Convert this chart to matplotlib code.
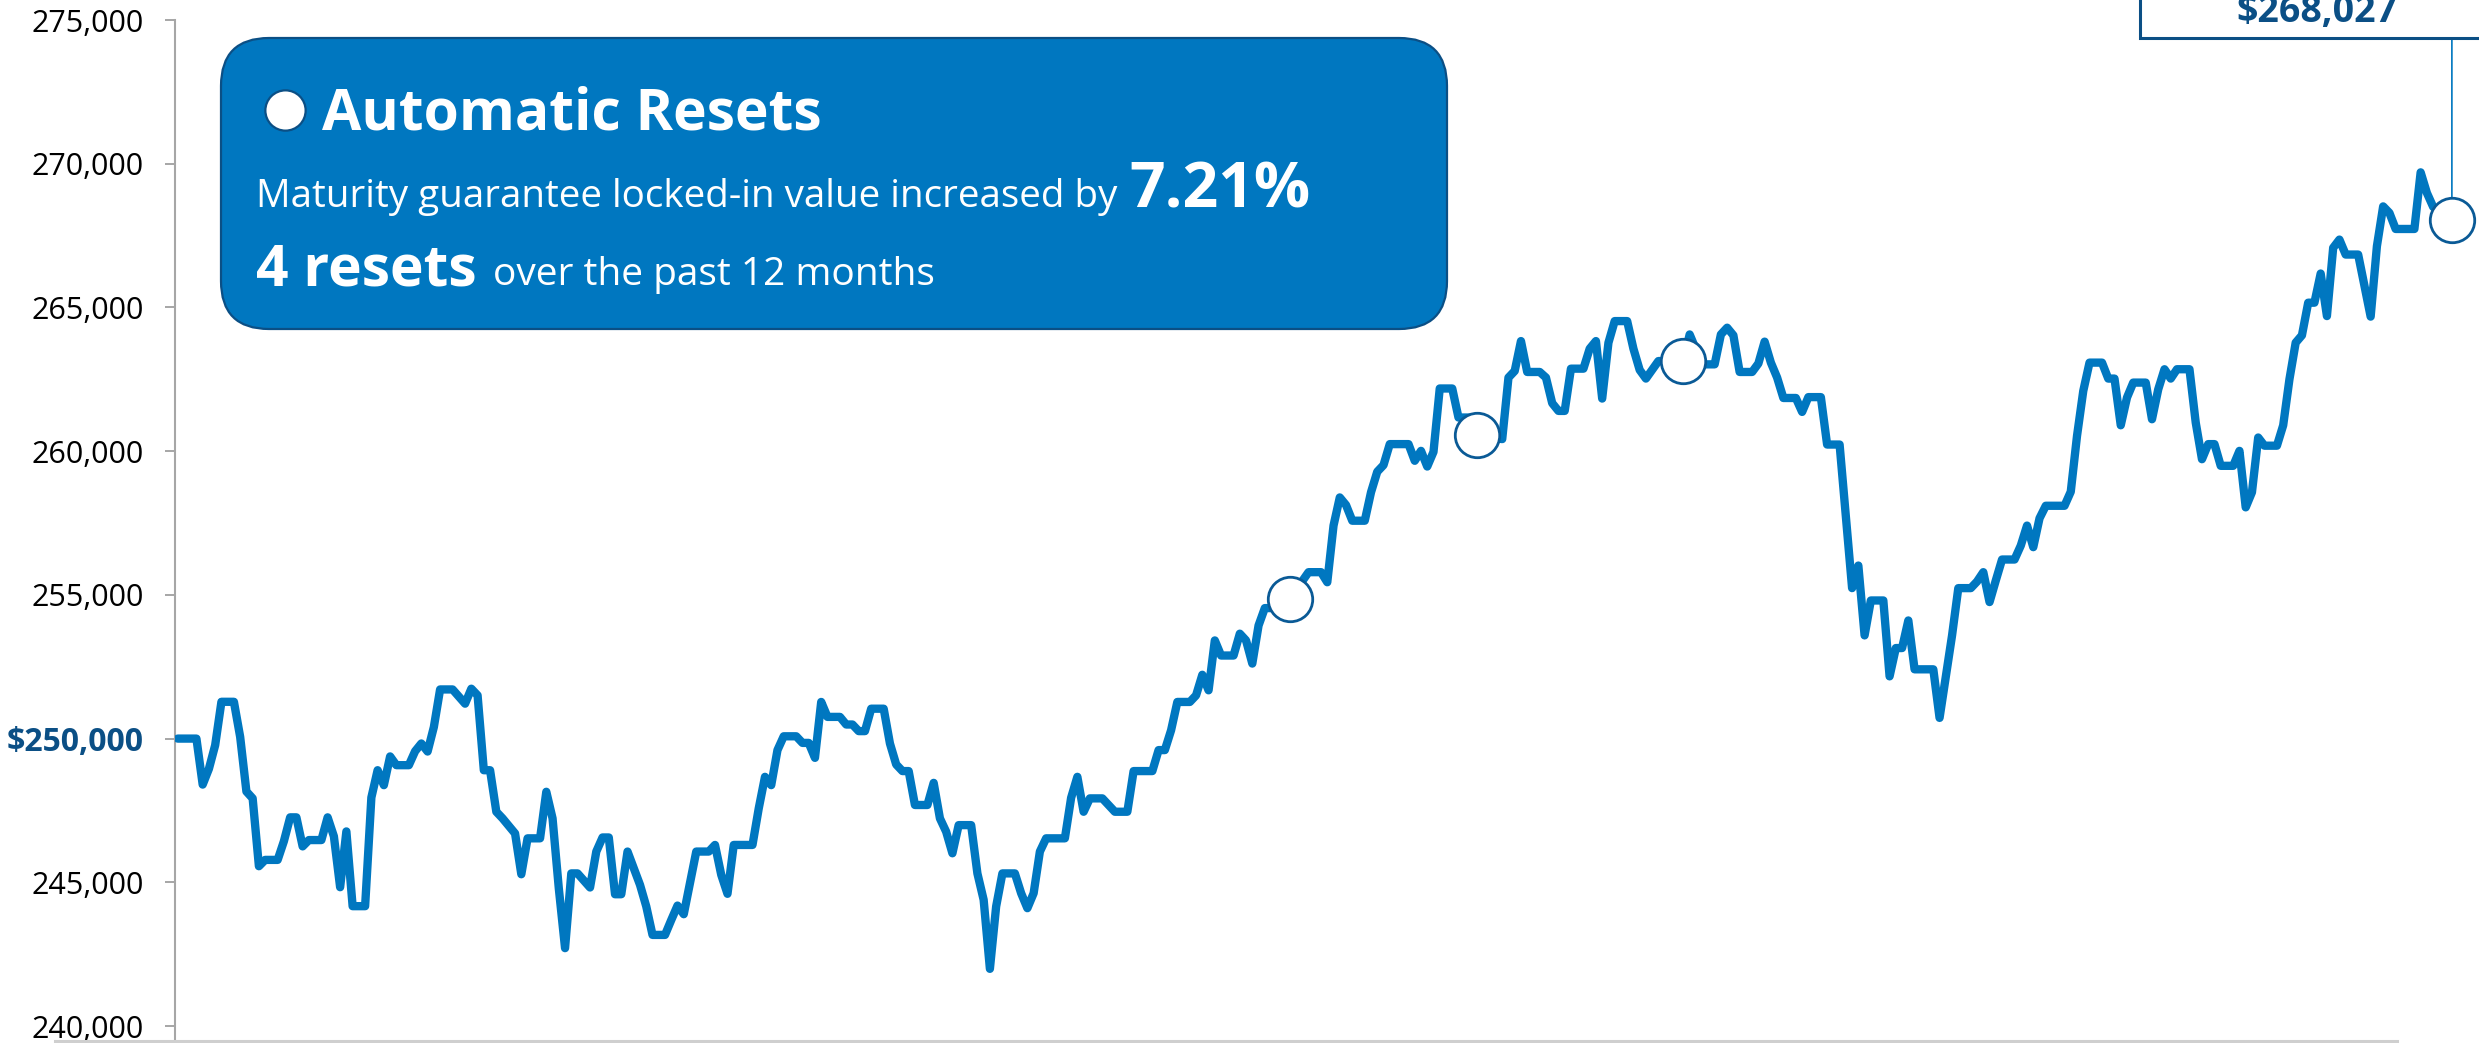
import matplotlib
matplotlib.use("Agg")
import matplotlib.pyplot as plt
from matplotlib import font_manager
from matplotlib.patches import FancyBboxPatch, Rectangle
from matplotlib.lines import Line2D
from matplotlib.transforms import IdentityTransform

# pick a humanist sans if it is there
names = {f.name for f in font_manager.fontManager.ttflist}
FONT = "Open Sans" if "Open Sans" in names else "DejaVu Sans"
plt.rcParams["font.family"] = FONT

# ---- data (day index over the past 12 months, account value) ----
days = [0, 3, 4, 5, 6, 7, 9, 10, 11, 12, 13, 14, 16, 17, 18, 19, 20, 21, 23, 24,
        25, 26, 27, 28, 30, 31, 32, 33, 34, 35, 37, 38, 39, 40, 41, 42, 44, 46, 47, 48,
        49, 50, 51, 52, 54, 55, 56, 58, 59, 60, 61, 62, 63, 64, 66, 67, 68, 69, 70, 71,
        72, 74, 75, 76, 78, 79, 80, 81, 83, 85, 86, 87, 88, 89, 92, 93, 94, 95, 96, 97,
        99, 100, 101, 102, 103, 104, 106, 107, 108, 109, 110, 111, 113, 114, 115, 116, 117, 118, 120, 121,
        122, 123, 124, 125, 127, 128, 129, 130, 131, 132, 134, 135, 136, 137, 138, 139, 142, 143, 144, 145,
        146, 148, 149, 150, 152, 153, 156, 157, 158, 159, 160, 162, 163, 164, 165, 166, 167, 169, 170, 171,
        172, 173, 174, 176, 178, 181, 183, 184, 185, 186, 187, 188, 190, 191, 192, 193, 194, 197, 198, 199,
        200, 201, 202, 204, 205, 207, 208, 212, 213, 214, 215, 216, 218, 219, 220, 221, 222, 223, 225, 226,
        227, 228, 229, 230, 232, 233, 234, 235, 237, 238, 241, 242, 244, 246, 247, 248, 249, 250, 252, 253,
        254, 255, 256, 257, 259, 260, 261, 263, 264, 266, 268, 269, 270, 271, 273, 274, 275, 276, 277, 278,
        281, 282, 284, 285, 287, 288, 289, 290, 291, 292, 294, 295, 296, 297, 298, 299, 302, 303, 304, 305,
        306, 308, 309, 310, 311, 312, 313, 315, 316, 317, 318, 319, 320, 322, 323, 324, 325, 326, 327, 329,
        330, 331, 332, 333, 334, 336, 337, 338, 339, 340, 341, 342, 343, 344, 345, 346, 347, 349, 351, 352,
        353, 354, 355, 358, 359, 360, 361, 364]
values = [250000, 250000, 248400, 248950, 249770, 251280, 251280, 250060, 248160, 247920,
          245560, 245780, 245780, 246430, 247260, 247260, 246250, 246470, 246470, 247260,
          246600, 244830, 246770, 244170, 244170, 247950, 248900, 248380, 249380, 249075,
          249075, 249560, 249830, 249550, 250400, 251710, 251710, 251215, 251735, 251505,
          248900, 248900, 247455, 247225, 246700, 245280, 246530, 246530, 248150, 247225,
          244790, 242710, 245310, 245310, 244820, 246070, 246560, 246560, 244585, 244585,
          246070, 244910, 244160, 243170, 243170, 243690, 244190, 243890, 246070, 246070,
          246300, 245260, 244600, 246300, 246300, 247570, 248670, 248380, 249600, 250080,
          250080, 249850, 249850, 249330, 251275, 250755, 250755, 250490, 250490, 250260,
          250260, 251040, 251040, 249830, 249100, 248870, 248870, 247690, 247690, 248460,
          247225, 246760, 246010, 246990, 246990, 245310, 244390, 241990, 244160, 245310,
          245310, 244620, 244100, 244620, 246070, 246530, 246530, 247940, 248670, 247455,
          247920, 247920, 247690, 247455, 247455, 248870, 248870, 249600, 249600, 250290,
          251275, 251275, 251505, 252220, 251680, 253415, 252890, 252890, 253650, 253415,
          252610, 253935, 254540, 254540, 254860, 255790, 255790, 255440, 257410, 258390,
          258125, 257580, 257580, 258570, 259285, 259515, 260245, 260245, 259665, 260010,
          259465, 259975, 262180, 262180, 261170, 261170, 260555, 260420, 262560, 262790,
          263830, 262755, 262755, 262560, 261670, 261400, 261400, 262870, 262870, 263565,
          263830, 261830, 263770, 264525, 264525, 263565, 262825, 262525, 263135, 263135,
          263135, 264060, 263020, 263020, 264060, 264295, 264030, 262755, 262755, 263050,
          263810, 263080, 262560, 261850, 261850, 261365, 261880, 261880, 260230, 260230,
          255235, 256020, 253590, 254805, 254805, 252165, 253150, 253150, 254110, 252410,
          252410, 250720, 253590, 255235, 255235, 255465, 255790, 254750, 255500, 256230,
          256230, 256715, 257410, 256660, 257665, 258100, 258100, 258590, 260530, 262095,
          263080, 263080, 262525, 262525, 260900, 261865, 262385, 262385, 261110, 262150,
          262850, 262525, 262850, 262850, 260995, 259720, 260245, 260245, 259490, 259490,
          260010, 258045, 258570, 260475, 260190, 260190, 260900, 262500, 263775, 264030,
          265165, 265165, 266180, 264700, 267075, 267360, 266840, 266840, 264680, 267130,
          268515, 268290, 267730, 267730, 269700, 268985, 268500, 268027]

reset_days = [178, 208, 241]
final_day = 364
final_label = "$268,027"
start_value = 250000
yticks = [240000, 245000, 250000, 255000, 260000, 265000, 270000, 275000]

title = "Automatic Resets"
line2_text = "Maturity guarantee locked-in value increased by"
line2_value = "7.21%"
line3_value = "4 resets"
line3_text = "over the past 12 months"

BLUE = "#0077c0"
DARK = "#0b4f85"
AXIS_GREY = "#a6a6a6"

W, H = 2479, 1043
fig = plt.figure(figsize=(W / 100, H / 100), dpi=100)
PX = IdentityTransform()  # figure pixels, origin bottom-left

# plot area: y axis at x=175, 275k at y=20, 240k at y=1026 (top-down pixels)
ax = fig.add_axes([175 / W, 3 / H, (2470 - 175) / W, 1020 / H])
ax.set_ylim(239514, 275000)
ax.set_xlim(-0.43, 366.9)

ax.plot(days, values, color=BLUE, lw=6.0, solid_joinstyle="round",
        solid_capstyle="round", zorder=3)

# reset markers + final value marker
lookup = dict(zip(days, values))
mark_days = reset_days + [final_day]
ax.plot(mark_days, [lookup[d] for d in mark_days], "o", ms=32, mfc="white",
        mec="#0a5a96", mew=2.0, zorder=4, clip_on=False)

# axes styling
for s in ["top", "right", "bottom"]:
    ax.spines[s].set_visible(False)
ax.spines["left"].set_color(AXIS_GREY)
ax.spines["left"].set_linewidth(1.5)
ax.set_xticks([])
ax.set_yticks(yticks)
labels = []
for v in yticks:
    labels.append(f"${v:,.0f}" if v == start_value else f"{v:,.0f}")
ax.set_yticklabels(labels)
ax.tick_params(axis="y", length=7.5, width=1.4, color=AXIS_GREY, pad=15,
               labelsize=22, labelcolor="black")
for lab, v in zip(ax.get_yticklabels(), yticks):
    if v == start_value:
        lab.set_color(DARK)
        lab.set_fontweight("bold")
        lab.set_fontsize(23)

# grey baseline under the chart
fig.add_artist(Line2D([55, 2397], [2, 2], color="#cfcfcf", lw=2.2, transform=PX))

# ---- info box ----
box = FancyBboxPatch((221, H - 329), 1447 - 221, 329 - 38,
                     boxstyle="round,pad=0,rounding_size=48",
                     fc=BLUE, ec=DARK, lw=1.6, transform=PX)
fig.add_artist(box)
fig.add_artist(Line2D([285], [H - 110], marker="o", ms=29, mfc="white",
                      mec=DARK, mew=1.6, transform=PX))
fig.text(322, H - 130, title, transform=PX, color="white", fontsize=41,
         fontweight="bold", ha="left", va="baseline")

t2 = fig.text(256, H - 207, line2_text, transform=PX, color="white",
              fontsize=27.8, ha="left", va="baseline")
t3 = fig.text(256, H - 285, line3_value, transform=PX, color="white",
              fontsize=41, fontweight="bold", ha="left", va="baseline")
fig.canvas.draw()
r = fig.canvas.get_renderer()
x2 = t2.get_window_extent(r).x1 + 12
x3 = t3.get_window_extent(r).x1 + 16
fig.text(x2, H - 207, line2_value, transform=PX, color="white", fontsize=45,
         fontweight="bold", ha="left", va="baseline")
fig.text(x3, H - 285, line3_text, transform=PX, color="white", fontsize=28,
         ha="left", va="baseline")

# ---- final value callout (runs off the top/right edge) ----
fig.add_artist(Rectangle((2140, H - 38), 360, 80, fc="white", ec=DARK,
                         lw=2.2, transform=PX))
fig.text(2317, H - 22, final_label, transform=PX, color=DARK, fontsize=27,
         fontweight="bold", ha="center", va="baseline")
ax.annotate("", xy=(final_day, lookup[final_day]), xycoords="data",
            xytext=(final_day, H - 38), textcoords=("data", "figure pixels"),
            arrowprops=dict(arrowstyle="-", color=BLUE, lw=1.2,
                            shrinkA=0, shrinkB=17),
            annotation_clip=False)

fig.savefig("out.png", dpi=100)
